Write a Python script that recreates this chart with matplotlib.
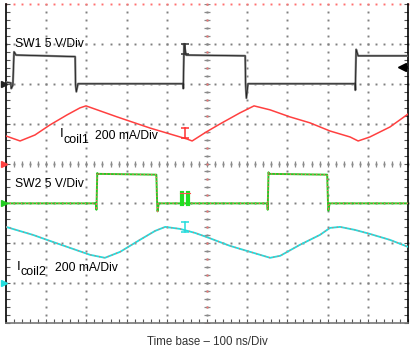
import numpy as np
import matplotlib
matplotlib.use('Agg')
import matplotlib.pyplot as plt

plt.rcParams['font.family'] = ['Liberation Sans', 'DejaVu Sans']

# Scope settings: 10 x 8 divisions, 100 ns/div
ns_per_div = 100
n_xdiv = 10
n_ydiv = 8

# SW1 (V), 5 V/div, ground at 6 div
sw1_t = [0, 12, 13, 17, 20, 25, 172, 173, 175, 179, 440, 441, 443, 448,
         595, 596, 598, 602, 868, 869, 871, 876, 1000]
sw1_v = [0.2, 0.1, -0.6, -0.2, 4.0, 3.6, 3.4, -0.1, -1.0, 0, 0, -0.6, 5.0, 3.6,
         3.5, 0, -1.8, 0, 0, -0.8, 4.3, 3.5, 3.5]
sw1_offset, sw1_scale = 6, 5

# Icoil1 (mA), 200 mA/div, ground at 4 div
ic1_t = [0, 35, 72, 109, 152, 184, 199, 276, 358, 408, 450, 463, 498, 532,
         582, 617, 657, 706, 756, 806, 856, 876, 905, 955, 1000]
ic1_i = [138, 113, 143, 193, 244, 279, 289, 234, 178, 148, 123, 113, 158, 198,
         254, 289, 269, 234, 204, 163, 133, 113, 133, 183, 248]
ic1_offset, ic1_scale = 4, 200

# SW2 (V), 5 V/div, ground at 3 div
sw2_t = [0, 224, 225, 227, 228, 374, 376, 377, 380, 650, 651, 653, 654,
         799, 801, 802, 805, 1000]
sw2_v = [0, 0, -0.8, 3.8, 3.7, 3.6, 0, -1.0, 0, 0, -0.8, 3.9, 3.7,
         3.6, 0, -0.9, 0, 0]
sw2_offset, sw2_scale = 3, 5

# Icoil2 (mA), 200 mA/div, ground at 1 div
ic2_t = [0, 67, 109, 159, 209, 246, 284, 333, 371, 396, 433, 470, 498, 557,
         607, 657, 682, 731, 781, 806, 831, 868, 905, 955, 1000]
ic2_i = [282, 242, 212, 177, 142, 127, 157, 217, 262, 282, 272, 252, 232, 187,
         157, 127, 137, 192, 242, 277, 282, 267, 247, 217, 182]
ic2_offset, ic2_scale = 1, 200

cursor_t = 445

fig = plt.figure(figsize=(4.12, 3.55), dpi=100)
ax = fig.add_axes([6 / 412, 1 - 323 / 355, 402 / 412, 319 / 355])
ax.set_xlim(0, n_xdiv * ns_per_div)
ax.set_ylim(0, n_ydiv)

# frame: solid left/right/bottom, dotted top
for s in ['left', 'right']:
    ax.spines[s].set_color('black')
    ax.spines[s].set_linewidth(1.2)
ax.spines['bottom'].set_color('#777777')
ax.spines['bottom'].set_linewidth(1.2)
ax.spines['top'].set_visible(False)

ax.set_xticks(np.arange(0, 1001, 100))
ax.set_yticks(np.arange(0, 9, 1))
ax.set_xticks(np.arange(0, 1001, 20), minor=True)
ax.set_yticks(np.arange(0, 8.01, 0.2), minor=True)
ax.tick_params(which='both', direction='in', length=3, width=0.8, color='#555555',
               labelbottom=False, labelleft=False, top=False, right=True)

# dotted grid
gx = np.arange(0, 1001, 20)
gy = np.arange(0, 8.01, 0.2)
for k in range(1, n_xdiv):
    ax.plot([k * ns_per_div] * len(gy), gy, ls='none', marker='s', ms=1.4,
            mew=0, color='#808080', zorder=1)
for k in range(1, n_ydiv + 1):
    col = '#ff7070' if k == n_ydiv else '#808080'
    ax.plot(gx, [k] * len(gx), ls='none', marker='s', ms=1.4, mew=0,
            color=col, zorder=1, clip_on=False)

# center cross with minor ticks
ax.plot(gx, [4] * len(gx), ls='none', marker='|', ms=4, mew=0.9,
        color='#8a8a8a', zorder=1)
ax.plot([500] * len(gy), gy, ls='none', marker='_', ms=4, mew=0.9,
        color='#8a8a8a', zorder=1)
ax.plot([500] * len(gy[::2]), gy[::2], ls='none', marker='s', ms=1.2, mew=0,
        color='#ff7070', zorder=1)

# traces
sw1_y = sw1_offset + np.array(sw1_v) / sw1_scale
ax.plot(sw1_t, sw1_y, color='#808080', lw=1.6, zorder=3)
ax.plot(sw1_t, sw1_y, color='#222222', lw=0.6, zorder=3)

ic1_y = ic1_offset + np.array(ic1_i) / ic1_scale
ax.plot(ic1_t, ic1_y, color='#ff4040', lw=1.1, zorder=3)

sw2_y = sw2_offset + np.array(sw2_v) / sw2_scale
ax.plot(sw2_t, sw2_y, color='#22cc22', lw=1.4, zorder=3)
ax.plot(sw2_t, sw2_y, color='#ff6060', lw=0.9, ls=(0, (1, 2)), zorder=3)

ic2_y = ic2_offset + np.array(ic2_i) / ic2_scale
ax.plot(ic2_t, ic2_y, color='#22dddd', lw=1.3, zorder=3)
ax.plot(ic2_t, ic2_y, color='#ff6060', lw=0.8, ls=(0, (1, 3)), zorder=3)

# cursors
for y0, y1, col in [(6.75, 7.0, '#333333'), (4.64, 4.89, '#ff3030'),
                    (2.28, 2.53, '#22dddd')]:
    ax.plot([cursor_t, cursor_t], [y0, y1], color=col, lw=1.1, zorder=4)
    ax.plot([cursor_t, cursor_t], [y0, y1], ls='none', marker='_', ms=6,
            mew=1.1, color=col, zorder=4)
for dx in [-8, 8]:
    ax.plot([cursor_t + dx, cursor_t + dx], [2.98, 3.26], color='#22dd22',
            lw=3, zorder=4)
ax.plot([cursor_t - 13, cursor_t + 13], [3.26, 3.26], color='#ff5050', lw=0.8, zorder=4)

# channel ground markers on left edge, trigger on right
for y, col in [(sw1_offset, '#222222'), (ic1_offset, '#ff4040'),
               (sw2_offset, '#22cc22'), (ic2_offset, '#22dddd')]:
    ax.plot([-6], [y], marker='>', ms=4, color=col, clip_on=False, zorder=5)
ax.plot([985], [6.42], marker='<', ms=6, color='black', zorder=5)
ax.plot([985, 1000], [6.42, 6.42], color='black', lw=1.2, zorder=5)

# labels
ax.text(22, 7.0, 'SW1 5 V/Div', fontsize=8.7, va='center', ha='left')
ax.text(22, 3.49, 'SW2 5 V/Div', fontsize=8.7, va='center', ha='left')
ax.text(134, 4.73, 'I', fontsize=9.5, va='center', ha='left')
ax.text(144, 4.6, 'coil1', fontsize=9, va='center', ha='left')
ax.text(222, 4.69, '200 mA/Div', fontsize=8.7, va='center', ha='left')
ax.text(27, 1.4, 'I', fontsize=9.5, va='center', ha='left')
ax.text(35, 1.27, 'coil2', fontsize=9, va='center', ha='left')
ax.text(122, 1.37, '200 mA/Div', fontsize=8.7, va='center', ha='left')

fig.text(207 / 412, 1 - 342 / 355, 'Time base \u2013 100 ns/Div', fontsize=8.3,
         color='#333333', ha='center', va='center')

fig.savefig('out.png', dpi=100)
